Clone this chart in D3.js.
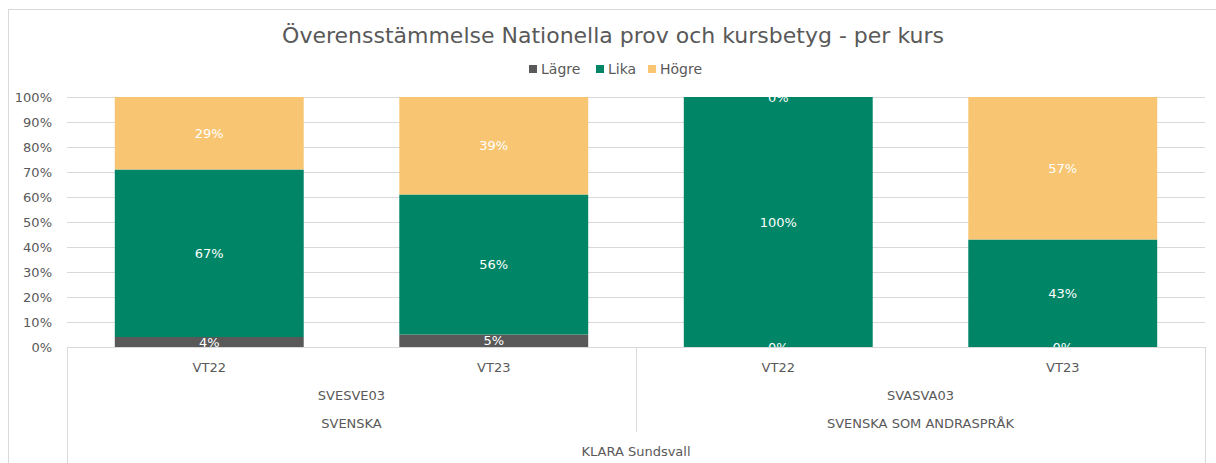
<!DOCTYPE html>
<html>
<head>
<meta charset="utf-8">
<script src="https://cdn.jsdelivr.net/npm/d3@7"></script>
<style>
  body { margin: 0; background: #fff; }
  svg text { font-family: "Century Gothic", "DejaVu Sans", sans-serif; fill: #595959; }
</style>
</head>
<body>
<svg id="chart" width="1216" height="463"></svg>
<script>
/* Överensstämmelse NP / kursbetyg - stacked 100% bars */

const terms    = ["VT22", "VT23", "VT22", "VT23"];
const courses  = ["SVESVE03", "SVESVE03", "SVASVA03", "SVASVA03"];
const subjects = ["SVENSKA", "SVENSKA", "SVENSKA SOM ANDRASPRÅK", "SVENSKA SOM ANDRASPRÅK"];
const schools  = ["KLARA Sundsvall", "KLARA Sundsvall", "KLARA Sundsvall", "KLARA Sundsvall"];

const seriesNames = ["Lägre", "Lika", "Högre"];
const lagre = [4, 5, 0, 0];
const lika  = [67, 56, 100, 43];
const hogre = [29, 39, 0, 57];

const yTicks = [0, 10, 20, 30, 40, 50, 60, 70, 80, 90, 100];
const colors = ["#595959", "#008566", "#F8C672"];

const svg = d3.select("#chart");
const plotLeft = 67, plotRight = 1205, plotTop = 97, plotBottom = 347;

const rows = terms.map((t, i) => ({
    key: i, term: t, course: courses[i], subject: subjects[i], school: schools[i],
    "Lägre": lagre[i], "Lika": lika[i], "Högre": hogre[i]
}));

const x = d3.scaleBand().domain(rows.map(d => d.key)).range([plotLeft, plotRight])
    .paddingInner(0.336).paddingOuter(0.168);
const y = d3.scaleLinear().domain([0, 100]).range([plotBottom, plotTop]);
const color = d3.scaleOrdinal().domain(seriesNames).range(colors);

// outer frame
svg.append("rect").attr("x", 8.5).attr("y", 9.5).attr("width", 1230).attr("height", 480)
    .attr("fill", "#fff").attr("stroke", "#d9d9d9");

// title
svg.append("text").attr("x", 613).attr("y", 43).attr("text-anchor", "middle")
    .style("font-size", "22px").text("Överensstämmelse Nationella prov och kursbetyg - per kurs");

// legend
const legendX = [529, 596, 648];
const legend = svg.append("g").selectAll("g").data(seriesNames).enter().append("g")
    .attr("transform", (d, i) => `translate(${legendX[i]},69)`);
legend.append("rect").attr("x", 0).attr("y", -4).attr("width", 8).attr("height", 8)
    .attr("fill", d => color(d));
legend.append("text").attr("x", 12).attr("dy", "0.35em").style("font-size", "14px").text(d => d);

// gridlines
svg.append("g").selectAll("line").data(yTicks.filter(t => t > 0)).enter().append("line")
    .attr("x1", plotLeft).attr("x2", plotRight)
    .attr("y1", d => Math.round(y(d)) + 0.5).attr("y2", d => Math.round(y(d)) + 0.5)
    .attr("stroke", "#d9d9d9");

// y axis labels
const yAxis = d3.axisLeft(y).tickValues(yTicks).tickFormat(d => d + "%").tickSize(0).tickPadding(15);
svg.append("g").attr("transform", `translate(${plotLeft},0)`).call(yAxis)
    .call(g => g.select(".domain").remove())
    .selectAll("text").style("font-size", "13px").attr("fill", "#595959");

// bars
const stacked = d3.stack().keys(seriesNames)(rows);
const layers = svg.append("g").selectAll("g").data(stacked).enter().append("g")
    .attr("fill", d => color(d.key));
layers.selectAll("rect").data(d => d).enter().append("rect")
    .attr("x", d => x(d.data.key)).attr("width", x.bandwidth())
    .attr("y", d => y(d[1])).attr("height", d => y(d[0]) - y(d[1]));

// value labels
svg.append("g").selectAll("g").data(stacked).enter().append("g")
    .selectAll("text").data(d => d.map(v => ({v, key: d.key}))).enter().append("text")
    .attr("x", d => x(d.v.data.key) + x.bandwidth() / 2)
    .attr("y", d => (y(d.v[0]) + y(d.v[1])) / 2)
    .attr("dy", "0.35em").attr("text-anchor", "middle")
    .style("font-size", "13px").style("fill", "#fff")
    .text(d => d.v.data[d.key] + "%");

// category axis box
const ax = svg.append("g").attr("stroke", "#d9d9d9").attr("fill", "none");
ax.append("line").attr("x1", plotLeft).attr("x2", plotRight).attr("y1", plotBottom + 0.5).attr("y2", plotBottom + 0.5);
ax.append("line").attr("x1", plotLeft + 0.5).attr("x2", plotLeft + 0.5).attr("y1", plotBottom).attr("y2", 463);
ax.append("line").attr("x1", plotRight + 0.5).attr("x2", plotRight + 0.5).attr("y1", plotBottom).attr("y2", 463);

// multi-level labels
const step = x.step();
const levelY = [367, 395, 423, 451];
svg.append("g").selectAll("text").data(rows).enter().append("text")
    .attr("x", d => x(d.key) + x.bandwidth() / 2).attr("y", levelY[0])
    .attr("dy", "0.35em").attr("text-anchor", "middle").style("font-size", "13px")
    .text(d => d.term);

function groupsOf(field) {
    const out = [];
    rows.forEach((d, i) => {
        const last = out[out.length - 1];
        if (last && last.name === d[field]) last.end = i;
        else out.push({name: d[field], start: i, end: i});
    });
    return out;
}

const levels = [["course", 1], ["subject", 2], ["school", 3]];
levels.forEach(([field, li]) => {
    const groups = groupsOf(field);
    svg.append("g").selectAll("text").data(groups).enter().append("text")
        .attr("x", g => plotLeft + step * (g.start + g.end + 1) / 2).attr("y", levelY[li])
        .attr("dy", "0.35em").attr("text-anchor", "middle").style("font-size", "13px")
        .text(g => g.name);
});

// separators between course groups (through course & subject rows)
const seps = groupsOf("course").slice(1).map(g => plotLeft + step * g.start);
ax.selectAll("line.sep").data(seps).enter().append("line").attr("class", "sep")
    .attr("x1", d => Math.round(d) + 0.5).attr("x2", d => Math.round(d) + 0.5)
    .attr("y1", plotBottom).attr("y2", 432);
</script>
</body>
</html>
